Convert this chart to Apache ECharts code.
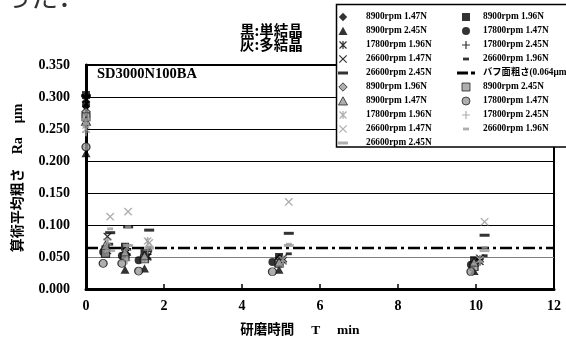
<!DOCTYPE html>
<html><head><meta charset="utf-8">
<script src="https://cdn.jsdelivr.net/npm/echarts@6/dist/echarts.min.js"></script>
<style>html,body{margin:0;padding:0;background:#fff}#c{width:566px;height:345px}</style>
</head><body><div id="c"></div>
<script>
// ---- data ----
const tCircle = [0, 0.44, 0.92, 1.35, 4.78, 9.87];
const tShape  = [0, 0.50, 1.00, 1.50, 4.95, 9.95];
const tStroke = [0, 0.55, 1.05, 1.58, 5.05, 10.10];
const tDash   = [0, 0.62, 1.08, 1.62, 5.20, 10.22];

const bDiamond  = [0.285, 0.060, 0.055, 0.050, 0.048, 0.040];
const bSquare   = [0.303, 0.062, 0.066, 0.056, 0.050, 0.045];
const bTriangle = [0.212, 0.055, 0.030, 0.032, 0.030, 0.028];
const bCircle   = [0.288, 0.058, 0.052, 0.045, 0.042, 0.038];
const bAster    = [0.296, 0.060, 0.058, 0.050, 0.044, 0.043];
const bPlus     = [0.292, 0.064, 0.055, 0.054, 0.042, 0.046];
const bX        = [0.298, 0.082, 0.058, 0.052, 0.048, 0.048];
const bShort    = [0.300, 0.070, 0.062, 0.060, 0.055, 0.052];
const bLong     = [0.302, 0.088, 0.097, 0.092, 0.087, 0.084];

const gDiamond  = [0.277, 0.062, 0.055, 0.050, 0.045, 0.040];
const gSquare   = [0.269, 0.056, 0.050, 0.047, 0.040, 0.035];
const gTriangle = [0.262, 0.068, 0.058, 0.052, 0.042, 0.042];
const gCircle   = [0.222, 0.040, 0.040, 0.028, 0.027, 0.027];
const gAster    = [0.256, 0.074, 0.065, 0.075, 0.046, 0.046];
const gPlus     = [0.245, 0.072, 0.045, 0.060, 0.040, 0.042];
const gX        = [0.250, 0.113, 0.121, 0.072, 0.136, 0.105];
const gShort    = [0.258, 0.094, 0.097, 0.066, 0.070, 0.065];
const gLong     = [0.265, 0.060, 0.068, 0.064, 0.068, 0.060];

const buffValue = 0.064;
const buffRange = [0, 12];
const xTicks = [0, 2, 4, 6, 8, 10, 12];
const yTicks = [0, 0.05, 0.10, 0.15, 0.20, 0.25, 0.30, 0.35];

// ---- symbols (20x10 padded box) ----
const PAD = 'M0,0M20,10';
const S = {
  diamond: 'path://' + PAD + 'M10,0.8L14.2,5L10,9.2L5.8,5Z',
  square: 'path://' + PAD + 'M6,1H14V9H6Z',
  triangle: 'path://' + PAD + 'M10,0.8L14.5,9L5.5,9Z',
  circle: 'path://' + PAD + 'M6,5A4,4 0 1,0 14,5A4,4 0 1,0 6,5Z',
  x: 'path://' + PAD + 'M6.3,1.3L13.7,8.7M13.7,1.3L6.3,8.7',
  plus: 'path://' + PAD + 'M10,1L10,9M6,5L14,5',
  aster: 'path://' + PAD + 'M6.5,1.5L13.5,8.5M13.5,1.5L6.5,8.5M10,1L10,9',
  short: 'path://' + PAD + 'M7,3.6H13V6.4H7Z',
  long: 'path://' + PAD + 'M5,3.5H15V6.5H5Z',
  buff: 'path://' + PAD + 'M1,3.6H12V6.4H1ZM15,3.6H19V6.4H15Z'
};
const BLACK = '#000', GRAY = '#9a9a9a';
const kindOf = {};

function sc(name, t, v, sym, kind, color) {
  let itemStyle;
  if (kind === 'stroke') itemStyle = {color: 'none', borderColor: color, borderWidth: 1.2};
  else if (kind === 'outline') itemStyle = {color: color, borderColor: '#111', borderWidth: 0.9};
  else itemStyle = {color: color, borderWidth: 0};
  kindOf[name] = kind;
  return {
    name, type: 'scatter', symbol: S[sym], symbolSize: [20, 10],
    data: t.map((x, i) => [x, v[i]]), itemStyle, emphasis: {disabled: true}, z: 3
  };
}

const BUFF = 'バフ面粗さ(0.064μm)';
kindOf[BUFF] = 'fill';
const series = [
  sc('B|8900rpm 1.47N', tShape, bDiamond, 'diamond', 'fill', BLACK),
  sc('B|8900rpm 1.96N', tShape, bSquare, 'square', 'fill', BLACK),
  sc('B|8900rpm 2.45N', tShape, bTriangle, 'triangle', 'fill', BLACK),
  sc('B|17800rpm 1.47N', tCircle, bCircle, 'circle', 'fill', BLACK),
  sc('B|17800rpm 1.96N', tStroke, bAster, 'aster', 'stroke', BLACK),
  sc('B|17800rpm 2.45N', tStroke, bPlus, 'plus', 'stroke', BLACK),
  sc('B|26600rpm 1.47N', tStroke, bX, 'x', 'stroke', BLACK),
  sc('B|26600rpm 1.96N', tDash, bShort, 'short', 'fill', BLACK),
  sc('B|26600rpm 2.45N', tDash, bLong, 'long', 'fill', BLACK),
  {
    name: BUFF, type: 'line', symbol: 'none', z: 3,
    data: buffRange.map(x => [x, buffValue]),
    itemStyle: {color: BLACK, borderWidth: 0},
    lineStyle: {color: BLACK, width: 2.5, type: [12, 4, 3, 4]},
    emphasis: {disabled: true}
  },
  sc('G|8900rpm 1.96N', tShape, gDiamond, 'diamond', 'outline', GRAY),
  sc('G|8900rpm 2.45N', tShape, gSquare, 'square', 'outline', GRAY),
  sc('G|8900rpm 1.47N', tShape, gTriangle, 'triangle', 'outline', GRAY),
  sc('G|17800rpm 1.47N', tCircle, gCircle, 'circle', 'outline', GRAY),
  sc('G|17800rpm 1.96N', tStroke, gAster, 'aster', 'stroke', GRAY),
  sc('G|17800rpm 2.45N', tStroke, gPlus, 'plus', 'stroke', GRAY),
  sc('G|26600rpm 1.47N', tDash, gX, 'x', 'stroke', GRAY),
  sc('G|26600rpm 1.96N', tDash, gShort, 'short', 'fill', GRAY),
  sc('G|26600rpm 2.45N', tDash, gLong, 'long', 'fill', GRAY)
];

const col1 = ['B|8900rpm 1.47N','B|8900rpm 2.45N','B|17800rpm 1.96N','B|26600rpm 1.47N','B|26600rpm 2.45N',
              'G|8900rpm 1.96N','G|8900rpm 1.47N','G|17800rpm 1.96N','G|26600rpm 1.47N','G|26600rpm 2.45N'];
const col2 = ['B|8900rpm 1.96N','B|17800rpm 1.47N','B|17800rpm 2.45N','B|26600rpm 1.96N',
              {name: BUFF, icon: S.buff},
              'G|8900rpm 2.45N','G|17800rpm 1.47N','G|17800rpm 2.45N','G|26600rpm 1.96N'];

const SERIF = '"Liberation Serif","Times New Roman","Noto Sans CJK JP",serif';

function legendCell(item, left, top, padLeft) {
  const name = typeof item === 'string' ? item : item.name;
  const kind = kindOf[name];
  const bw = kind === 'stroke' ? 1.2 : kind === 'outline' ? 0.9 : 0;
  const off = kind === 'stroke' ? 2.5 : bw / 2;   // icon bounding-box growth from stroke
  return {
    data: [item], left: left - off, top: top - off, orient: 'vertical', padding: 0,
    itemWidth: 20, itemHeight: 10, selectedMode: false, z: 6,
    formatter: n => n.replace(/^[BG]\|/, ''),
    textStyle: {fontFamily: SERIF, fontWeight: 'bold', fontSize: 9.3, color: '#000',
                lineHeight: 10, padding: [0, 0, 0, padLeft]},
    itemStyle: {borderWidth: bw}
  };
}
const legends = [];
col1.forEach((it, i) => legends.push(legendCell(it, 333, 12 + 14 * i, 8)));
col2.forEach((it, i) => legends.push(legendCell(it, 456, 12 + 14 * i, 2)));

const chart = echarts.init(document.getElementById('c'), null, {renderer: 'canvas'});
chart.setOption({
  animation: false,
  backgroundColor: '#fff',
  grid: {left: 86, right: 12, top: 65, bottom: 56, show: true, borderColor: '#000', borderWidth: 2, backgroundColor: 'transparent'},
  xAxis: {
    type: 'value', min: xTicks[0], max: xTicks[xTicks.length - 1], interval: 2,
    axisLine: {lineStyle: {color: '#000', width: 3}},
    axisTick: {inside: true, length: 5, lineStyle: {color: '#000', width: 1.5}},
    splitLine: {show: false},
    axisLabel: {fontFamily: SERIF, fontWeight: 'bold', fontSize: 14, color: '#000', margin: 10}
  },
  yAxis: {
    type: 'value', min: yTicks[0], max: yTicks[yTicks.length - 1], interval: 0.05,
    axisLine: {show: true, lineStyle: {color: '#000', width: 3}},
    axisTick: {show: false},
    splitLine: {show: true, lineStyle: {color: ['#000', '#808080', '#000', '#000', '#000', '#000', '#000', '#000'], width: 1.2}},
    axisLabel: {fontFamily: SERIF, fontWeight: 'bold', fontSize: 14, color: '#000', margin: 16,
                formatter: v => v.toFixed(3)}
  },
  legend: legends,
  graphic: [
    {type: 'rect', z: 5, shape: {x: 336.5, y: 4.5, width: 260, height: 142.5},
     style: {fill: '#fff', stroke: '#000', lineWidth: 1.5}},
    {type: 'text', z: 5, left: 4, top: -17, style: {text: 'った．', font: '27px "Noto Sans CJK JP"', fill: '#333'}},
    {type: 'text', z: 5, left: 240, top: 23, style: {text: '黒:単結晶', font: 'bold 14.5px "Noto Sans CJK JP"', fill: '#000'}},
    {type: 'text', z: 5, left: 240, top: 37, style: {text: '灰:多結晶', font: 'bold 14.5px "Noto Sans CJK JP"', fill: '#000'}},
    {type: 'text', z: 5, left: 97, top: 67, style: {text: 'SD3000N100BA', font: 'bold 14.5px "Liberation Serif"', fill: '#000'}},
    {type: 'text', z: 5, x: 18, y: 178, rotation: Math.PI / 2,
     style: {text: '算術平均粗さ　Ra　μm', font: 'bold 14px ' + SERIF, fill: '#000', align: 'center', verticalAlign: 'middle'}},
    {type: 'text', z: 5, x: 300, y: 331,
     style: {text: '研磨時間　 T 　min', font: 'bold 13.5px ' + SERIF, fill: '#000', align: 'center', verticalAlign: 'middle'}}
  ],
  series
});
</script>
</body></html>
